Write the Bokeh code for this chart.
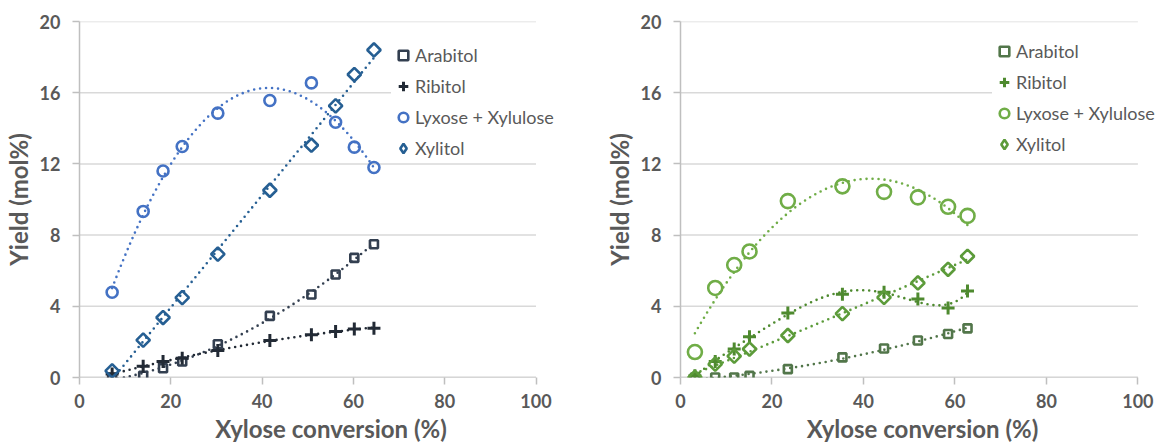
import numpy as np
from bokeh.plotting import figure
from bokeh.models import Range1d, FixedTicker, Legend, LegendItem
from bokeh.layouts import row
from bokeh.embed import file_html
from bokeh.resources import INLINE

# ---------------- data ----------------
# Left panel
left_x = [7.15, 13.95, 18.3, 22.5, 30.3, 41.7, 50.8, 56.1, 60.2, 64.5]
left_arabitol = [0.0, 0.1, 0.52, 0.9, 1.87, 3.46, 4.66, 5.79, 6.72, 7.49]
left_ribitol = [0.2, 0.63, 0.9, 1.08, 1.51, 2.08, 2.4, 2.58, 2.73, 2.77]
left_lyxose = [4.79, 9.33, 11.6, 12.98, 14.85, 15.56, 16.55, 14.34, 12.94, 11.8]
left_xylitol = [0.37, 2.1, 3.37, 4.49, 6.93, 10.52, 13.05, 15.26, 17.02, 18.4]

# Right panel
right_x = [3.15, 7.59, 11.74, 15.09, 23.47, 35.4, 44.5, 51.9, 58.5, 62.75]
right_arabitol = [0.0, 0.0, 0.0, 0.09, 0.47, 1.13, 1.63, 2.08, 2.44, 2.76]
right_ribitol = [0.1, 0.9, 1.6, 2.29, 3.62, 4.67, 4.79, 4.41, 3.9, 4.86]
right_lyxose = [1.43, 5.03, 6.32, 7.08, 9.91, 10.74, 10.43, 10.12, 9.59, 9.08]
right_xylitol = [0.0, 0.75, 1.2, 1.6, 2.36, 3.59, 4.5, 5.31, 6.08, 6.81]

series_names = ["Arabitol", "Ribitol", "Lyxose + Xylulose", "Xylitol"]
x_ticks = [0, 20, 40, 60, 80, 100]
y_ticks = [0, 4, 8, 12, 16, 20]

left_colors = ["#333f50", "#222a35", "#4472c4", "#265f93"]
right_colors = ["#52764a", "#4e8a2f", "#70ad47", "#5c9b3a"]

# trendline polynomial orders (Excel-style trendlines)
left_orders = [2, 2, 3, 1]
right_orders = [2, 5, 2, 2]

FONT = "Lato"
GREY = "#595959"
AXIS_GREY = "#bfbfbf"
FIG_W = 582
FIG_H = 448


def make_panel(xs, ys_list, colors, orders, borders, axis_px, legend_loc,
               circle_size):
    bl, bt, bb = borders
    frame_w = FIG_W - bl
    # the frame runs to the right edge of the figure so that the legend can
    # sit past the end of the 0-100 axis, as in the reference
    x_end = 100.0 * frame_w / axis_px
    p = figure(width=FIG_W, height=FIG_H, output_backend="svg",
               toolbar_location=None, min_border_left=bl,
               min_border_right=0, min_border_top=bt, min_border_bottom=bb,
               x_range=Range1d(0, x_end), y_range=Range1d(0, 20))
    p.outline_line_color = None
    p.xgrid.grid_line_color = None
    p.ygrid.grid_line_color = None
    p.xaxis.ticker = FixedTicker(ticks=x_ticks)
    p.yaxis.ticker = FixedTicker(ticks=y_ticks)
    for ax in (p.xaxis, p.yaxis):
        ax.axis_line_color = AXIS_GREY
        ax.axis_line_width = 1.5
        ax.major_tick_line_color = AXIS_GREY
        ax.major_tick_line_width = 1.5
        ax.major_tick_in = 0
        ax.major_tick_out = 7
        ax.minor_tick_line_color = None
        ax.major_label_text_font = FONT
        ax.major_label_text_font_style = "bold"
        ax.major_label_text_font_size = "18px"
        ax.major_label_text_color = GREY
        ax.axis_label_text_font = FONT
        ax.axis_label_text_font_style = "bold"
        ax.axis_label_text_font_size = "24px"
        ax.axis_label_text_color = GREY
    p.xaxis.axis_line_color = None
    p.xaxis.axis_label = "Xylose conversion (%)"
    p.yaxis.axis_label = "Yield (mol%)"
    p.xaxis.major_label_standoff = 9
    p.xaxis.axis_label_standoff = 3
    p.yaxis.major_label_standoff = 12
    p.yaxis.axis_label_standoff = 4

    # horizontal gridlines and x axis line, spanning the 0-100 axis only
    p.segment(x0=[x_ticks[0]] * len(y_ticks), x1=[x_ticks[-1]] * len(y_ticks),
              y0=y_ticks, y1=y_ticks, line_color="#d9d9d9", line_width=1.5)
    p.segment(x0=[x_ticks[0]], x1=[x_ticks[-1]], y0=[y_ticks[0]], y1=[y_ticks[0]],
              line_color=AXIS_GREY, line_width=1.5)

    # trendlines
    xa = np.asarray(xs, dtype=float)
    xx = np.linspace(xa.min(), xa.max(), 200)
    for ys, c, o in zip(ys_list, colors, orders):
        coef = np.polyfit(xa, np.asarray(ys, dtype=float), o)
        p.line(xx, np.polyval(coef, xx), line_color=c, line_width=2.6,
               line_dash="0 6", line_cap="round")

    # markers
    items = []
    r = p.scatter(xs, ys_list[0], marker="square", size=8, line_color=colors[0],
                  line_width=2.6, fill_color=None)
    items.append(LegendItem(label=series_names[0], renderers=[r]))
    r = p.scatter(xs, ys_list[1], marker="cross", size=13, line_color=colors[1],
                  line_width=3, fill_color=None)
    items.append(LegendItem(label=series_names[1], renderers=[r]))
    r = p.scatter(xs, ys_list[2], marker="circle", size=circle_size, line_color=colors[2],
                  line_width=2.6, fill_color=None)
    items.append(LegendItem(label=series_names[2], renderers=[r]))
    r = p.scatter(xs, ys_list[3], marker="square", size=9.5, angle=np.pi / 4,
                  line_color=colors[3], line_width=2.6, fill_color=None)
    # legend proxy (same data, hidden) so the legend shows a diamond
    proxy = p.scatter(xs, ys_list[3], marker="diamond", size=13,
                      line_color=colors[3], line_width=2.6, fill_color=None,
                      visible=False)
    items.append(LegendItem(label=series_names[3], renderers=[proxy]))

    leg = Legend(items=items, location=legend_loc, padding=5, margin=0,
                 spacing=7, glyph_width=24, glyph_height=24, label_height=20,
                 label_standoff=0, border_line_color=None,
                 background_fill_color="white", background_fill_alpha=1.0,
                 label_text_font=FONT, label_text_font_size="18px",
                 label_text_color=GREY)
    p.add_layout(leg, "center")
    return p


p1 = make_panel(left_x, [left_arabitol, left_ribitol, left_lyxose, left_xylitol],
                left_colors, left_orders, (79, 21, 71), 456.5, (312, 217), 11)
p2 = make_panel(right_x, [right_arabitol, right_ribitol, right_lyxose, right_xylitol],
                right_colors, right_orders, (98, 21, 71), 457.4, (312, 221), 14)

layout = row(p1, p2)
open("out.html", "w").write(file_html(layout, INLINE))
